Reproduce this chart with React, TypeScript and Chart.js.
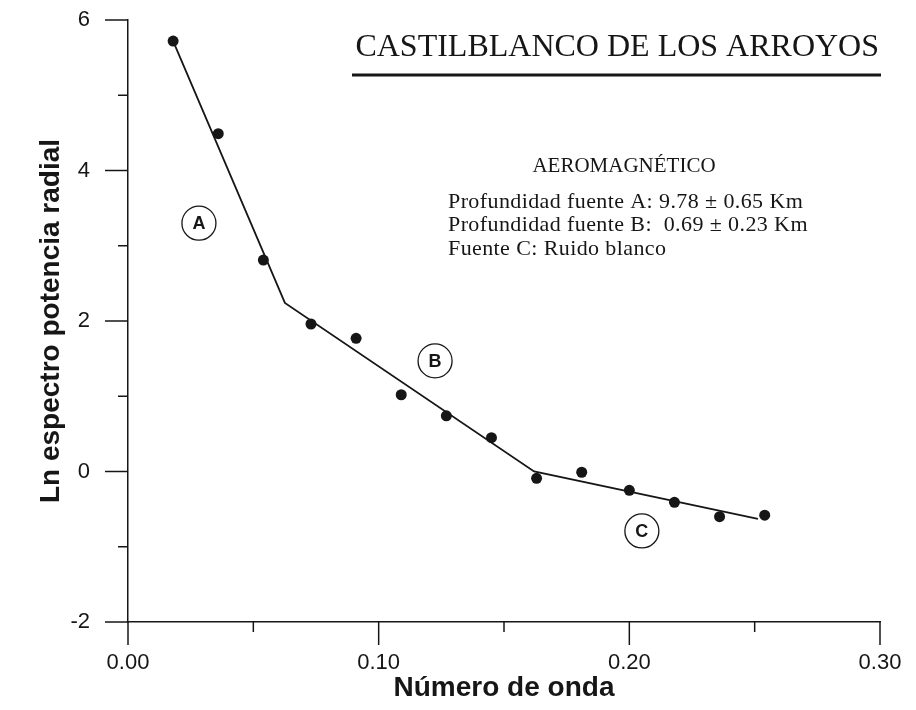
import React, { useEffect, useRef } from "react";
import { Chart, registerables } from "chart.js";

Chart.register(...registerables);

// Observed data (wave number vs ln radial power spectrum)
const waveNumber = [0.018, 0.036, 0.054, 0.073, 0.091, 0.109, 0.127, 0.145, 0.163, 0.181, 0.2, 0.218, 0.236, 0.254];
const lnPower = [5.72, 4.49, 2.81, 1.96, 1.77, 1.02, 0.74, 0.45, -0.09, -0.01, -0.25, -0.41, -0.6, -0.58];

// Fitted segments A, B, C (break points)
const fitX = [0.018, 0.0626, 0.162, 0.2513];
const fitY = [5.72, 2.24, 0.0, -0.63];

// Source labels (circled letters)
const sourceNames = ["A", "B", "C"];
const sourceX = [0.0283, 0.1225, 0.205];
const sourceY = [3.3, 1.47, -0.79];

// Axis ticks
const xTicks = [0, 0.05, 0.1, 0.15, 0.2, 0.25, 0.3];
const xTickLabels = ["0.00", "", "0.10", "", "0.20", "", "0.30"];
const yTicks = [-2, -1, 0, 1, 2, 3, 4, 5, 6];
const yTickLabels = ["-2", "", "0", "", "2", "", "4", "", "6"];

const chartTitle = "CASTILBLANCO DE LOS ARROYOS";
const infoHeader = "AEROMAGNÉTICO";
const infoLines = [
  "Profundidad fuente A: 9.78 ± 0.65 Km",
  "Profundidad fuente B:  0.69 ± 0.23 Km",
  "Fuente C: Ruido blanco",
];

const INK = "#161616";
const SERIF = "'Liberation Serif', 'Times New Roman', serif";
const SANS = "'Liberation Sans', Arial, sans-serif";

const decorPlugin = {
  id: "decor",
  afterDraw(chart: any) {
    const ctx = chart.ctx;
    const xs = chart.scales.x;
    const ys = chart.scales.y;
    const area = chart.chartArea;
    ctx.save();
    ctx.strokeStyle = INK;
    ctx.lineWidth = 1.5;
    // y ticks
    yTicks.forEach((v, i) => {
      const py = ys.getPixelForValue(v);
      const len = yTickLabels[i] ? 23 : 10;
      ctx.beginPath();
      ctx.moveTo(area.left, py);
      ctx.lineTo(area.left - len, py);
      ctx.stroke();
    });
    // x ticks
    xTicks.forEach((v, i) => {
      const px = xs.getPixelForValue(v);
      const len = xTickLabels[i] ? 23 : 10;
      ctx.beginPath();
      ctx.moveTo(px, area.bottom);
      ctx.lineTo(px, area.bottom + len);
      ctx.stroke();
    });

    // circled source labels
    sourceNames.forEach((name, i) => {
      const px = xs.getPixelForValue(sourceX[i]);
      const py = ys.getPixelForValue(sourceY[i]);
      ctx.beginPath();
      ctx.lineWidth = 1.3;
      ctx.arc(px, py, 17, 0, Math.PI * 2);
      ctx.stroke();
      ctx.fillStyle = INK;
      ctx.font = `bold 18px ${SANS}`;
      ctx.textAlign = "center";
      ctx.textBaseline = "middle";
      ctx.fillText(name, px, py + 1);
    });

    // title
    ctx.fillStyle = INK;
    ctx.font = `32px ${SERIF}`;
    ctx.textAlign = "right";
    ctx.textBaseline = "alphabetic";
    ctx.fillText(chartTitle, 879, 56);
    ctx.lineWidth = 3;
    ctx.beginPath();
    ctx.moveTo(352, 75);
    ctx.lineTo(881, 75);
    ctx.stroke();

    // info block
    ctx.font = `21px ${SERIF}`;
    ctx.textAlign = "center";
    ctx.textBaseline = "middle";
    ctx.fillText(infoHeader, 624, 166);
    ctx.textAlign = "left";
    ctx.font = `22px ${SERIF}`;
    try {
      (ctx as any).letterSpacing = "0.4px";
    } catch (e) {}
    const lineYs = [202, 225, 249];
    infoLines.forEach((t, i) => ctx.fillText(t, 448, lineYs[i]));
    try {
      (ctx as any).letterSpacing = "0px";
    } catch (e) {}
    ctx.restore();
  },
};

export default function App() {
  const canvasRef = useRef<HTMLCanvasElement | null>(null);

  useEffect(() => {
    if (!canvasRef.current) return;
    const chart = new Chart(canvasRef.current, {
      type: "scatter",
      data: {
        datasets: [
          {
            type: "line",
            label: "Ajuste",
            data: fitX.map((x, i) => ({ x, y: fitY[i] })),
            borderColor: INK,
            borderWidth: 1.8,
            pointRadius: 0,
            fill: false,
            tension: 0,
          } as any,
          {
            label: "Datos",
            data: waveNumber.map((x, i) => ({ x, y: lnPower[i] })),
            backgroundColor: INK,
            borderWidth: 0,
            pointRadius: 5.5,
          },
        ],
      },
      options: {
        animation: false,
        responsive: false,
        layout: { padding: { top: 20, right: 36, left: 0, bottom: 0 } },
        plugins: {
          legend: { display: false },
          tooltip: { enabled: false },
          title: { display: false },
        },
        scales: {
          x: {
            type: "linear",
            min: 0,
            max: 0.3,
            afterFit: (s: any) => {
              s.height = 88;
              s.paddingLeft = 0;
              s.paddingRight = 0;
            },
            afterBuildTicks: (s: any) => {
              s.ticks = xTicks.map((v) => ({ value: v }));
            },
            ticks: {
              autoSkip: false,
              maxRotation: 0,
              padding: 5,
              color: INK,
              font: { size: 22, family: SANS },
              callback: (v: any) => {
                const i = xTicks.findIndex((t) => Math.abs(t - Number(v)) < 1e-9);
                return i >= 0 ? xTickLabels[i] : "";
              },
            },
            grid: {
              display: true,
              drawOnChartArea: false,
              drawTicks: true,
              tickLength: 23,
              color: "transparent",
              tickColor: "transparent",
            },
            border: { display: true, color: INK, width: 1.5 },
            title: {
              display: true,
              text: "Número de onda",
              color: INK,
              font: { size: 28, weight: "bold", family: SANS },
              padding: { top: 0, bottom: 5 },
            },
          },
          y: {
            type: "linear",
            min: -2,
            max: 6,
            afterFit: (s: any) => {
              s.width = 128;
              s.paddingTop = 0;
              s.paddingBottom = 0;
            },
            afterBuildTicks: (s: any) => {
              s.ticks = yTicks.map((v) => ({ value: v }));
            },
            ticks: {
              autoSkip: false,
              padding: 15,
              color: INK,
              font: { size: 22, family: SANS },
              callback: (v: any) => {
                const i = yTicks.findIndex((t) => Math.abs(t - Number(v)) < 1e-9);
                return i >= 0 ? yTickLabels[i] : "";
              },
            },
            grid: {
              display: true,
              drawOnChartArea: false,
              drawTicks: true,
              tickLength: 23,
              color: "transparent",
              tickColor: "transparent",
            },
            border: { display: true, color: INK, width: 1.5 },
            title: {
              display: true,
              text: "Ln espectro potencia radial",
              color: INK,
              font: { size: 28, weight: "bold", family: SANS },
              padding: { top: 34, bottom: 0 },
            },
          },
        },
      },
      plugins: [decorPlugin],
    });
    return () => chart.destroy();
  }, []);

  return (
    <div style={{ position: "absolute", left: 0, top: 0, width: 916, height: 710, background: "#fff" }}>
      <canvas ref={canvasRef} width={916} height={710} style={{ width: 916, height: 710, display: "block" }} />
    </div>
  );
}
